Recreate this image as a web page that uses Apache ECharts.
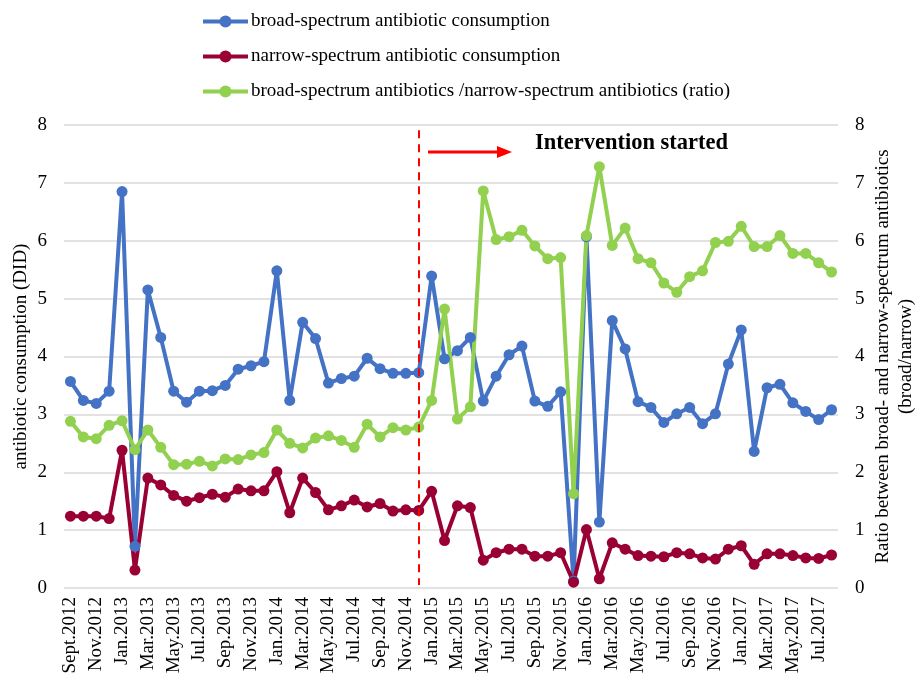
<!DOCTYPE html>
<html>
<head>
<meta charset="utf-8">
<script src="https://cdn.jsdelivr.net/npm/echarts@6/dist/echarts.min.js"></script>
<style>
  html, body { margin: 0; padding: 0; background: #ffffff; }
  #chart { width: 920px; height: 680px; }
</style>
</head>
<body>
<div id="chart"></div>
<script>
// Monthly categories, Sept 2012 – Aug 2017
const months = [
  'Sept.2012', 'Oct.2012', 'Nov.2012', 'Dec.2012',
  'Jan.2013', 'Feb.2013', 'Mar.2013', 'Apr.2013', 'May.2013', 'Jun.2013',
  'Jul.2013', 'Aug.2013', 'Sep.2013', 'Oct.2013', 'Nov.2013', 'Dec.2013',
  'Jan.2014', 'Feb.2014', 'Mar.2014', 'Apr.2014', 'May.2014', 'Jun.2014',
  'Jul.2014', 'Aug.2014', 'Sep.2014', 'Oct.2014', 'Nov.2014', 'Dec.2014',
  'Jan.2015', 'Feb.2015', 'Mar.2015', 'Apr.2015', 'May.2015', 'Jun.2015',
  'Jul.2015', 'Aug.2015', 'Sep.2015', 'Oct.2015', 'Nov.2015', 'Dec.2015',
  'Jan.2016', 'Feb.2016', 'Mar.2016', 'Apr.2016', 'May.2016', 'Jun.2016',
  'Jul.2016', 'Aug.2016', 'Sep.2016', 'Oct.2016', 'Nov.2016', 'Dec.2016',
  'Jan.2017', 'Feb.2017', 'Mar.2017', 'Apr.2017', 'May.2017', 'Jun.2017',
  'Jul.2017', 'Aug.2017'
];

// Broad-spectrum antibiotic consumption (DID)
const broadSpectrum = [
  3.57, 3.24, 3.19, 3.40,
  6.85, 0.72, 5.15, 4.33, 3.40, 3.21, 3.40, 3.41, 3.50, 3.78, 3.84, 3.91,
  5.48, 3.24, 4.59, 4.31, 3.54, 3.62, 3.66, 3.97, 3.79, 3.71, 3.71, 3.72,
  5.39, 3.96, 4.10, 4.33, 3.23, 3.66, 4.03, 4.18, 3.23, 3.14, 3.39, 0.12,
  6.07, 1.14, 4.62, 4.13, 3.22, 3.12, 2.86, 3.01, 3.12, 2.84, 3.01, 3.87,
  4.46, 2.36, 3.46, 3.52, 3.20, 3.05, 2.91, 3.08
];

// Narrow-spectrum antibiotic consumption (DID)
const narrowSpectrum = [
  1.24, 1.24, 1.24, 1.20,
  2.38, 0.31, 1.90, 1.78, 1.60, 1.50, 1.56, 1.62, 1.57, 1.71, 1.68, 1.68,
  2.01, 1.30, 1.90, 1.65, 1.35, 1.42, 1.52, 1.40, 1.46, 1.33, 1.35, 1.34,
  1.67, 0.82, 1.42, 1.39, 0.48, 0.61, 0.67, 0.67, 0.55, 0.55, 0.61, 0.10,
  1.01, 0.16, 0.78, 0.67, 0.56, 0.55, 0.54, 0.61, 0.59, 0.52, 0.50, 0.67,
  0.73, 0.41, 0.59, 0.59, 0.56, 0.52, 0.51, 0.57
];

// Ratio broad / narrow
const ratio = [
  2.88, 2.61, 2.58, 2.81,
  2.89, 2.39, 2.73, 2.43, 2.13, 2.14, 2.19, 2.11, 2.23, 2.22, 2.30, 2.34,
  2.73, 2.50, 2.42, 2.59, 2.63, 2.55, 2.43, 2.83, 2.61, 2.77, 2.73, 2.78,
  3.24, 4.82, 2.92, 3.13, 6.86, 6.02, 6.07, 6.18, 5.91, 5.69, 5.71, 1.63,
  6.09, 7.28, 5.92, 6.22, 5.69, 5.62, 5.27, 5.11, 5.38, 5.48, 5.97, 5.99,
  6.25, 5.90, 5.90, 6.09, 5.78, 5.78, 5.62, 5.46
];

const interventionMonth = 'Dec.2014';

const FONT = 'Liberation Serif';
const BLUE = '#4472C4';
const RED = '#990033';
const GREEN = '#92D050';

const chart = echarts.init(document.getElementById('chart'));

function lineSeries(name, data, color, yAxisIndex, extra) {
  return Object.assign({
    name: name,
    type: 'line',
    yAxisIndex: yAxisIndex,
    data: data,
    symbol: 'circle',
    symbolSize: 11,
    showSymbol: true,
    showAllSymbol: true,
    color: color,
    lineStyle: { width: 4, color: color },
    itemStyle: { color: color },
    emphasis: { disabled: true },
    animation: false
  }, extra || {});
}

chart.setOption({
  backgroundColor: '#ffffff',
  textStyle: { fontFamily: FONT },
  legend: {
    orient: 'vertical',
    left: 196,
    top: 7,
    itemWidth: 45,
    itemHeight: 15,
    itemGap: 16,
    lineStyle: { width: 4 },
    textStyle: { fontFamily: FONT, fontSize: 19, color: '#000000', padding: [0, 0, 0, -2] },
    data: [
      'broad-spectrum antibiotic consumption',
      'narrow-spectrum antibiotic consumption',
      'broad-spectrum antibiotics /narrow-spectrum antibiotics (ratio)'
    ]
  },
  grid: { left: 64, right: 82, top: 125, bottom: 92, outerBoundsMode: 'none', containLabel: false },
  xAxis: {
    type: 'category',
    data: months,
    boundaryGap: true,
    axisLine: { show: false },
    axisTick: { show: false },
    axisLabel: {
      interval: 1,
      rotate: 90,
      margin: 9,
      fontFamily: FONT,
      fontSize: 19,
      color: '#000000'
    }
  },
  yAxis: [
    {
      type: 'value',
      min: 0, max: 8, interval: 1,
      name: 'antibiotic consumption (DID)',
      nameLocation: 'middle',
      nameMoveOverlap: false,
      nameGap: 33,
      nameTextStyle: { fontFamily: FONT, fontSize: 19, color: '#000000' },
      axisLine: { show: false },
      axisTick: { show: false },
      axisLabel: { margin: 17, fontFamily: FONT, fontSize: 19, color: '#000000' },
      splitLine: { show: true, lineStyle: { color: '#d9d9d9', width: 1.5 } }
    },
    {
      type: 'value',
      min: 0, max: 8, interval: 1,
      position: 'right',
      name: 'Ratio between broad- and narrow-spectrum antibiotics\n(broad/narrow)',
      nameLocation: 'middle',
      nameMoveOverlap: false,
      nameRotate: 90,
      nameGap: 34,
      nameTextStyle: { fontFamily: FONT, fontSize: 19, color: '#000000', align: 'center', lineHeight: 23 },
      axisLine: { show: false },
      axisTick: { show: false },
      axisLabel: { margin: 17, fontFamily: FONT, fontSize: 19, color: '#000000' },
      splitLine: { show: false }
    }
  ],
  series: [
    lineSeries('broad-spectrum antibiotic consumption', broadSpectrum, BLUE, 0),
    lineSeries('narrow-spectrum antibiotic consumption', narrowSpectrum, RED, 0),
    lineSeries('broad-spectrum antibiotics /narrow-spectrum antibiotics (ratio)', ratio, GREEN, 1, {
      markLine: {
        silent: true,
        symbol: ['none', 'none'],
        label: { show: false },
        lineStyle: { color: '#ff0000', type: [8, 6], width: 2 },
        data: [[
          { coord: [interventionMonth, 7.91] },
          { coord: [interventionMonth, 0.05] }
        ]]
      }
    })
  ],
  graphic: [
    {
      type: 'line',
      shape: { x1: 428, y1: 152, x2: 500, y2: 152 },
      style: { stroke: '#ff0000', lineWidth: 3 },
      silent: true
    },
    {
      type: 'polygon',
      shape: { points: [[497, 146], [512, 152], [497, 158]] },
      style: { fill: '#ff0000' },
      silent: true
    },
    {
      type: 'text',
      left: 535,
      top: 132,
      style: {
        text: 'Intervention started',
        font: 'bold 22.5px "Liberation Serif"',
        fill: '#000000'
      },
      silent: true
    }
  ]
});
</script>
</body>
</html>
